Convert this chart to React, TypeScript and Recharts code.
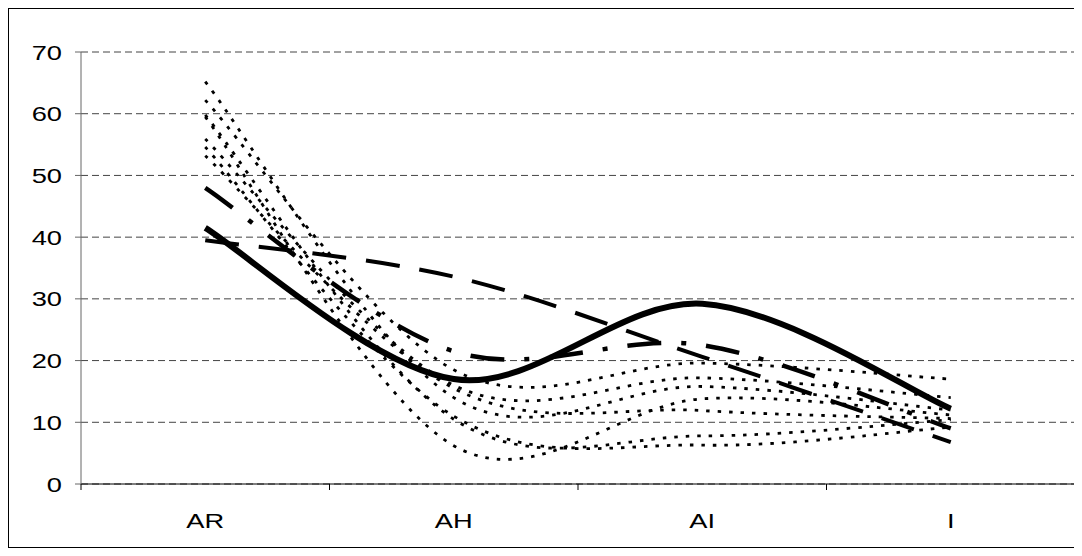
import React from "react";
import { LineChart, Line, XAxis, YAxis, CartesianGrid } from "recharts";

// categories along the x axis
const categories = ["AR", "AH", "AI", "I"];
const yTicks = [0, 10, 20, 30, 40, 50, 60, 70];

// thick series
const solidSeries = [41.5, 17, 29.2, 12.2];
const longDashSeries = [39.5, 33.6, 20.6, 6.8];
const dashDotSeries = [48, 21.5, 22.5, 9];

// thin dotted series
const dotted1 = [65.2, 14, 15.8, 12];
const dotted2 = [62.2, 18.5, 19.6, 17];
const dotted3 = [59.8, 10.5, 7.8, 10.4];
const dotted4 = [59.5, 6.2, 13.8, 11.2];
const dotted5 = [55.9, 16, 17.2, 14];
const dotted6 = [54.6, 11, 6.3, 9.2];
const dotted7 = [53.2, 15.5, 11.9, 10.6];

const dottedList = [dotted1, dotted2, dotted3, dotted4, dotted5, dotted6, dotted7];

const data = categories.map((name, i) => {
  const row: Record<string, number | string> = {
    name,
    solid: solidSeries[i],
    longDash: longDashSeries[i],
    dashDot: dashDotSeries[i],
  };
  dottedList.forEach((s, k) => {
    row[`d${k}`] = s[i];
  });
  return row;
});

// Excel-like smoothing (Catmull-Rom through every point)
const smoothCurve = (context: any) => {
  let pts: number[][] = [];
  return {
    areaStart() {},
    areaEnd() {},
    lineStart() {
      pts = [];
    },
    point(x: number, y: number) {
      pts.push([+x, +y]);
    },
    lineEnd() {
      if (!pts.length) return;
      context.moveTo(pts[0][0], pts[0][1]);
      for (let i = 0; i < pts.length - 1; i++) {
        const p0 = pts[i - 1] || pts[i];
        const p1 = pts[i];
        const p2 = pts[i + 1];
        const p3 = pts[i + 2] || pts[i + 1];
        context.bezierCurveTo(
          p1[0] + (p2[0] - p0[0]) / 6,
          p1[1] + (p2[1] - p0[1]) / 6,
          p2[0] - (p3[0] - p1[0]) / 6,
          p2[1] - (p3[1] - p1[1]) / 6,
          p2[0],
          p2[1]
        );
      }
    },
  };
};

const FONT = "'Liberation Sans', Arial, sans-serif";

const XTick = (props: any) => {
  const { x, y, payload, width, visibleTicksCount, index } = props;
  const half = width / visibleTicksCount / 2;
  return (
    <g>
      <line x1={x - half} x2={x - half} y1={y - 6} y2={y} stroke="#000" />
      {index === visibleTicksCount - 1 && (
        <line x1={x + half} x2={x + half} y1={y - 6} y2={y} stroke="#000" />
      )}
      <text
        transform={`translate(${x},${y + 38}) scale(1.3,1)`}
        textAnchor="middle"
        fontFamily={FONT}
        fontSize={21}
        fill="#000"
      >
        {payload.value}
      </text>
    </g>
  );
};

const YTick = (props: any) => {
  const { x, y, payload } = props;
  return (
    <text
      transform={`translate(${x - 13},${y + 7.5}) scale(1.3,1)`}
      textAnchor="end"
      fontFamily={FONT}
      fontSize={21}
      fill="#000"
    >
      {payload.value}
    </text>
  );
};

export default function App() {
  return (
    <div style={{ width: 1069, height: 538, border: "1px solid #000" }}>
      <LineChart
        width={1069}
        height={538}
        data={data}
        margin={{ top: 43, right: 3, left: 0, bottom: 23 }}
      >
        <CartesianGrid vertical={false} stroke="#444" strokeDasharray="7 4" />
        <XAxis
          dataKey="name"
          scale="band"
          height={40}
          tickLine={false}
          tickSize={6}
          tickMargin={0}
          axisLine={{ stroke: "#000" }}
          tick={<XTick />}
          interval={0}
        />
        <YAxis
          width={72}
          domain={[0, 70]}
          ticks={yTicks}
          interval={0}
          tickSize={6}
          tickMargin={0}
          axisLine={{ stroke: "#666" }}
          tickLine={{ stroke: "#666" }}
          tick={<YTick />}
        />
        {dottedList.map((_, k) => (
          <Line
            key={`d${k}`}
            dataKey={`d${k}`}
            type={smoothCurve as any}
            stroke="#000"
            strokeWidth={2.8}
            strokeDasharray="3.5 8"
            dot={false}
            activeDot={false}
            isAnimationActive={false}
          />
        ))}
        <Line
          dataKey="longDash"
          type={smoothCurve as any}
          stroke="#000"
          strokeWidth={4}
          strokeDasharray="34 20"
          dot={false}
          activeDot={false}
          isAnimationActive={false}
        />
        <Line
          dataKey="dashDot"
          type={smoothCurve as any}
          stroke="#000"
          strokeWidth={4.5}
          strokeDasharray="34 20 5 20"
          dot={false}
          activeDot={false}
          isAnimationActive={false}
        />
        <Line
          dataKey="solid"
          type={smoothCurve as any}
          stroke="#000"
          strokeWidth={6}
          dot={false}
          activeDot={false}
          isAnimationActive={false}
        />
      </LineChart>
    </div>
  );
}
